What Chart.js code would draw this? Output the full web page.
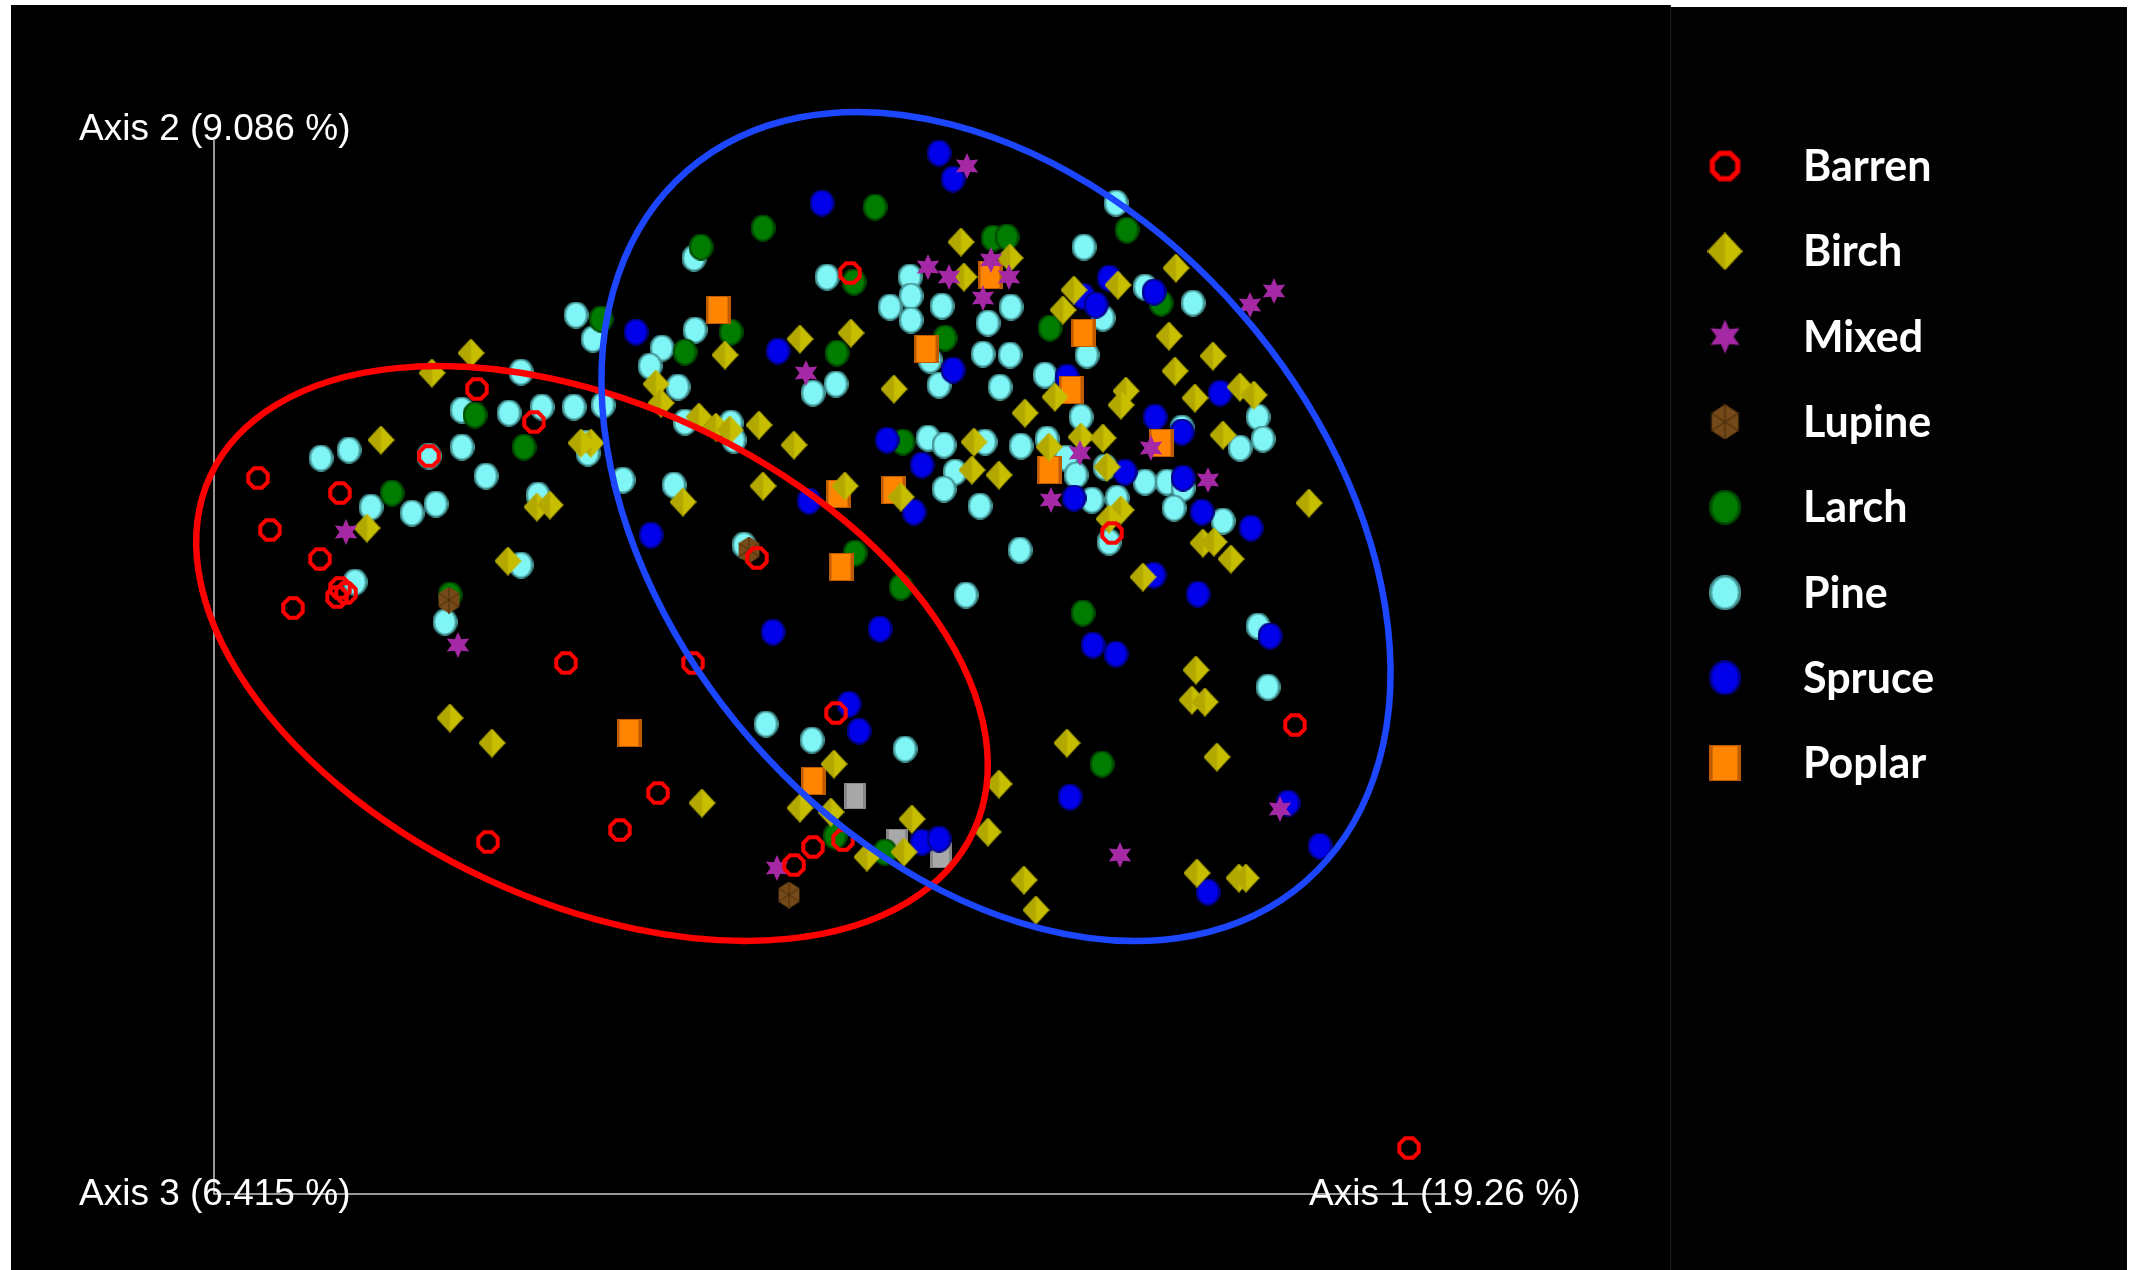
<!DOCTYPE html>
<html lang="en">
<head>
<meta charset="UTF-8" />
<title>PCoA - Emperor view</title>
<script src="https://cdn.jsdelivr.net/npm/chart.js"></script>
<style>
    html, body { margin: 0; padding: 0; background: #fff; }
    body { width: 2139px; height: 1270px; position: relative; overflow: hidden; }
    .panel { position: absolute; background: #000; }
    #plotPanel { left: 11px; top: 5px; width: 1659px; bottom: 0; }
    #legendPanel { left: 1671px; top: 7px; width: 456px; bottom: 0; background: #020202; }
    #divider { position: absolute; left: 1670px; top: 5px; width: 1px; bottom: 0; background: #1c1c1c; }
    #chart { position: absolute; left: 0; top: 0; }
</style>
</head>
<body>
<div class="panel" id="plotPanel"></div>
<div class="panel" id="legendPanel"></div>
<div id="divider"></div>
<canvas id="chart" width="2139" height="1270"></canvas>
<script>
// sample groups (legend order)
const groups = ['Barren', 'Birch', 'Mixed', 'Lupine', 'Larch', 'Pine', 'Spruce', 'Poplar'];

// axis titles
const axisLabels = ['Axis 1 (19.26 %)', 'Axis 2 (9.086 %)', 'Axis 3 (6.415 %)'];
const axisLength = [123.2, 105.4];

// point scores [axis1, axis2]
const barren = [[26.3,80.5],[32.0,77.2],[21.5,73.8],[4.4,71.6],[12.6,70.1],[5.6,66.4],[10.6,63.5],
    [12.6,60.6],[13.2,60.1],[12.3,59.7],[7.9,58.6],[35.2,53.1],[27.4,35.2],[40.6,36.4],[54.3,63.6],
    [63.6,92.1],[89.8,66.1],[47.9,53.1],[108.1,46.9],[62.2,48.1],[44.4,40.1],[62.9,35.4],[59.9,34.7],
    [58.0,32.9],[119.5,4.6]];
const birch = [[25.7,84.1],[21.8,82.1],[16.7,75.4],[32.3,68.7],[33.6,68.9],[15.3,66.6],[29.4,63.3],
    [23.6,47.6],[27.8,45.1],[44.2,81.0],[44.7,79.1],[48.5,77.7],[50.2,76.7],[51.6,76.4],[54.5,76.9],
    [58.0,74.9],[37.7,75.1],[36.7,75.1],[46.9,69.2],[54.9,70.8],[58.6,85.5],[63.7,86.1],[51.1,83.9],
    [74.7,95.2],[75.0,91.7],[68.0,80.5],[76.0,75.2],[75.8,72.4],[78.5,71.9],[68.7,69.7],[63.1,70.8],
    [79.6,93.6],[96.2,92.6],[90.4,90.9],[86.0,90.4],[84.9,88.4],[95.5,85.8],[99.9,83.8],[96.1,82.3],
    [84.1,79.7],[91.2,80.3],[90.7,78.9],[98.1,79.6],[102.6,80.7],[104.0,79.9],[81.1,78.1],[100.9,75.9],
    [83.5,74.7],[86.7,75.7],[88.9,75.6],[89.3,72.7],[90.7,68.4],[89.5,67.5],[109.5,69.1],[98.9,65.1],
    [100.0,65.2],[101.7,63.5],[92.9,61.7],[98.2,52.4],[97.8,49.4],[99.1,49.2],[85.3,45.1],[100.3,43.7],
    [62.0,43.0],[48.8,39.1],[58.6,38.6],[61.7,38.2],[78.5,41.0],[69.8,37.5],[77.4,36.2],[65.3,33.7],
    [69.0,34.2],[81.0,31.4],[98.3,32.1],[102.5,31.6],[103.2,31.6],[82.2,28.4]];
const mixed = [[13.2,66.2],[24.4,54.9],[59.2,82.1],[75.3,102.8],[71.4,92.7],[73.5,91.7],[76.9,89.6],
    [79.5,91.7],[77.7,93.4],[103.6,88.9],[106.0,90.3],[86.6,74.1],[93.7,74.6],[99.4,71.4],[83.7,69.4],
    [106.6,38.5],[90.6,33.9],[56.3,32.6]];
const lupine = [[23.5,59.4],[53.5,64.4],[57.5,29.9]];
const larch = [[26.1,77.9],[31.0,74.7],[17.8,70.1],[23.6,59.9],[38.7,87.5],[51.7,86.2],[47.1,84.2],
    [62.3,84.1],[64.1,64.1],[66.1,98.7],[54.9,96.6],[48.7,94.7],[64.0,91.2],[77.9,95.6],[79.3,95.7],
    [73.1,85.6],[68.9,75.2],[91.3,96.4],[94.7,89.1],[83.6,86.6],[68.7,60.7],[86.9,58.1],[88.8,43.0],
    [62.1,35.8],[67.1,34.2]];
const pine = [[30.7,82.2],[24.8,78.4],[29.5,78.1],[32.8,78.7],[10.7,73.6],[13.5,74.4],[21.5,73.8],
    [24.8,74.7],[27.2,71.8],[15.7,68.7],[19.8,68.1],[22.2,69.0],[32.4,69.9],[30.7,62.9],[14.1,61.2],
    [23.1,57.2],[36.2,87.9],[37.9,85.5],[48.1,86.4],[44.8,84.6],[43.6,82.8],[62.2,81.0],[59.9,80.1],
    [46.4,80.7],[47.1,77.2],[36.0,78.7],[38.9,78.9],[51.7,77.1],[52.0,75.4],[37.2,75.1],[37.4,74.1],
    [40.9,71.4],[46.0,70.9],[53.0,64.9],[48.0,93.6],[61.3,91.7],[69.6,91.7],[69.7,89.8],[67.6,88.7],
    [69.7,87.4],[72.8,88.8],[77.4,87.1],[71.6,83.4],[72.5,80.9],[76.9,84.0],[78.6,80.7],[71.4,75.6],
    [73.0,74.9],[77.1,75.2],[74.1,72.2],[73.0,70.5],[76.6,68.8],[90.2,99.1],[87.0,94.7],[93.1,90.7],
    [97.9,89.1],[88.9,87.6],[79.7,88.7],[87.3,83.9],[79.6,83.9],[83.1,81.9],[86.7,77.7],[104.4,77.7],
    [96.8,76.6],[104.9,75.5],[102.6,74.6],[80.7,74.8],[83.3,75.5],[85.2,73.6],[86.2,71.9],[89.1,72.7],
    [93.1,71.2],[95.3,71.2],[96.9,70.6],[87.8,69.4],[90.3,69.6],[89.5,65.2],[96.0,68.6],[100.9,67.3],
    [80.6,64.4],[75.2,59.9],[104.4,56.8],[105.4,50.7],[55.2,47.0],[59.8,45.4],[69.1,44.5]];
const spruce = [[42.2,86.2],[56.4,84.3],[43.7,65.9],[60.8,99.1],[72.5,104.1],[73.9,101.5],[73.9,82.4],
    [67.3,75.4],[70.8,72.9],[70.0,68.2],[59.5,69.3],[89.5,91.6],[94.0,90.2],[86.9,89.8],[88.2,88.9],
    [85.3,81.7],[100.6,80.1],[94.1,77.7],[96.8,76.2],[91.1,72.2],[96.9,71.6],[86.0,69.6],[98.8,68.2],
    [103.7,66.6],[94.0,61.9],[98.4,60.0],[55.9,56.2],[66.6,56.5],[87.9,54.9],[90.2,54.0],[105.6,55.8],
    [63.5,49.0],[64.5,46.3],[85.6,39.7],[107.4,39.1],[70.8,35.2],[72.5,35.5],[110.6,34.8],[99.4,30.2]];
const poplar = [[41.5,46.1],[50.4,88.4],[62.7,62.7],[62.4,70.0],[67.9,70.4],[71.2,84.5],[77.6,91.9],
    [86.9,86.1],[85.7,80.4],[94.7,75.1],[83.5,72.4],[59.9,41.3]];
const unassigned = [[64.1,39.8],[68.3,35.2],[72.7,33.9]];

// confidence ellipses: [centre x, centre y, semi-major, semi-minor, tilt in degrees]
const redEllipse = [37.8, 54.05, 42.1, 24.9, -25];
const blueEllipse = [78.2, 66.75, 47.1, 32.5, -49];

// ---- marker sprites ----
function makeCanvas(w, h) {
    const c = document.createElement('canvas');
    c.width = w; c.height = h;
    return c;
}
function ball(fill, rim) {
    const c = makeCanvas(25, 27), g = c.getContext('2d');
    g.fillStyle = rim;
    g.beginPath(); g.ellipse(12.5, 13.5, 12.5, 13.5, 0, 0, Math.PI * 2); g.fill();
    g.fillStyle = fill;
    g.beginPath(); g.ellipse(12.5, 13.5, 10, 11.5, 0, 0, Math.PI * 2); g.fill();
    return c;
}
function ring() {
    const c = makeCanvas(26, 26), g = c.getContext('2d');
    g.strokeStyle = '#ff0000'; g.lineWidth = 4;
    g.beginPath();
    for (let i = 0; i < 8; i++) {
        const a = Math.PI / 8 + i * Math.PI / 4;
        g.lineTo(13 + 10.5 * Math.cos(a), 13 + 10.5 * Math.sin(a));
    }
    g.closePath(); g.stroke();
    return c;
}
function diamond() {
    const c = makeCanvas(27, 29), g = c.getContext('2d');
    g.fillStyle = 'rgb(200,190,0)';
    g.beginPath(); g.moveTo(13.5, 0); g.lineTo(27, 14.5); g.lineTo(13.5, 29); g.lineTo(0, 14.5); g.closePath(); g.fill();
    g.fillStyle = 'rgb(178,168,0)';
    g.beginPath(); g.moveTo(13.5, 0); g.lineTo(13.5, 29); g.lineTo(0, 14.5); g.closePath(); g.fill();
    return c;
}
function star() {
    const c = makeCanvas(26, 28), g = c.getContext('2d');
    g.fillStyle = 'rgb(165,40,165)';
    g.beginPath();
    for (let i = 0; i < 12; i++) {
        const r = i % 2 === 0 ? 13 : 6.5;
        const a = -Math.PI / 2 + i * Math.PI / 6;
        g.lineTo(13 + r * Math.cos(a), 14 + r * Math.sin(a));
    }
    g.closePath(); g.fill();
    return c;
}
function hexagon() {
    const c = makeCanvas(24, 27), g = c.getContext('2d');
    const pts = [];
    for (let i = 0; i < 6; i++) {
        const a = -Math.PI / 2 + i * Math.PI / 3;
        pts.push([12 + 12 * Math.cos(a), 13.5 + 13.5 * Math.sin(a)]);
    }
    g.fillStyle = 'rgb(118,74,24)';
    g.beginPath(); pts.forEach(p => g.lineTo(p[0], p[1])); g.closePath(); g.fill();
    g.strokeStyle = 'rgb(70,45,12)'; g.lineWidth = 1;
    g.beginPath(); g.moveTo(pts[0][0], pts[0][1]); g.lineTo(pts[3][0], pts[3][1]);
    g.moveTo(pts[1][0], pts[1][1]); g.lineTo(pts[4][0], pts[4][1]);
    g.moveTo(pts[2][0], pts[2][1]); g.lineTo(pts[5][0], pts[5][1]); g.stroke();
    return c;
}
function box(w, h, fill, edge) {
    const c = makeCanvas(w, h), g = c.getContext('2d');
    g.fillStyle = edge; g.fillRect(0, 0, w, h);
    g.fillStyle = fill; g.fillRect(3, 1, w - 6, h - 2);
    return c;
}

const sprites = {
    Barren: ring(),
    Birch: diamond(),
    Mixed: star(),
    Lupine: hexagon(),
    Larch: ball('rgb(0,125,0)', 'rgb(0,75,0)'),
    Pine: ball('rgb(128,245,245)', 'rgb(70,150,150)'),
    Spruce: ball('rgb(0,0,235)', 'rgb(0,0,140)'),
    Poplar: box(25, 28, 'rgb(255,132,0)', 'rgb(190,90,0)'),
    Other: box(22, 26, 'rgb(168,168,168)', 'rgb(135,135,135)')
};

const groupData = { Barren: barren, Birch: birch, Mixed: mixed, Lupine: lupine, Larch: larch,
    Pine: pine, Spruce: spruce, Poplar: poplar, Other: unassigned };
// drawing depth: lower is drawn on top
const depth = { Barren: 0, Mixed: 1, Birch: 2, Poplar: 3, Lupine: 4, Spruce: 5, Larch: 6, Pine: 7, Other: 8 };

const datasets = groups.concat(['Other']).map(name => ({
    label: name,
    data: groupData[name].map(p => ({ x: p[0], y: p[1] })),
    pointStyle: sprites[name],
    order: depth[name]
}));

// axes, ellipses and legend
const decorations = {
    id: 'decorations',
    beforeDatasetsDraw(chart) {
        const ctx = chart.ctx, xs = chart.scales.x, ys = chart.scales.y;
        const ox = xs.getPixelForValue(0), oy = ys.getPixelForValue(0);
        const ex = xs.getPixelForValue(axisLength[0]), ty = ys.getPixelForValue(axisLength[1]);
        ctx.save();
        ctx.strokeStyle = '#c8c8c8';
        ctx.lineWidth = 1.5;
        ctx.beginPath();
        ctx.moveTo(ox, ty); ctx.lineTo(ox, oy); ctx.lineTo(ex, oy);
        ctx.stroke();
        ctx.fillStyle = '#ffffff';
        ctx.font = '37px "Liberation Sans", Arial, sans-serif';
        ctx.textBaseline = 'alphabetic';
        ctx.fillText(axisLabels[1], ox - 135, ty);
        ctx.fillText(axisLabels[2], ox - 135, oy + 11);
        ctx.fillText(axisLabels[0], ex - 137, oy + 11);
        ctx.restore();
    },
    afterDatasetsDraw(chart) {
        const ctx = chart.ctx, xs = chart.scales.x, ys = chart.scales.y;
        [[redEllipse, '#ff0000'], [blueEllipse, '#1c46ff']].forEach(([e, col]) => {
            const px = xs.getPixelForValue(e[0]), py = ys.getPixelForValue(e[1]);
            const rx = Math.abs(xs.getPixelForValue(e[0] + e[2]) - px);
            const ry = Math.abs(ys.getPixelForValue(e[1] + e[3]) - py);
            ctx.save();
            ctx.strokeStyle = col;
            ctx.lineWidth = 6.5;
            ctx.beginPath();
            ctx.ellipse(px, py, rx, ry, -e[4] * Math.PI / 180, 0, Math.PI * 2);
            ctx.stroke();
            ctx.restore();
        });
    },
    afterDraw(chart) {
        const ctx = chart.ctx;
        ctx.save();
        ctx.fillStyle = '#ffffff';
        ctx.font = 'bold 43px Lato, "Open Sans", sans-serif';
        ctx.textBaseline = 'alphabetic';
        groups.forEach((name, i) => {
            const cy = 166 + i * 85.3;
            const img = sprites[name];
            const w = img.width * 1.3, h = img.height * 1.3;
            ctx.drawImage(img, 1725 - w / 2, cy - h / 2, w, h);
            ctx.fillText(name, 1803, cy + 15);
        });
        ctx.restore();
    }
};

new Chart(document.getElementById('chart'), {
    type: 'scatter',
    data: { datasets: datasets },
    options: {
        responsive: false,
        animation: false,
        devicePixelRatio: 1,
        layout: { padding: 0, autoPadding: false },
        scales: {
            x: { type: 'linear', display: false, min: -21.4, max: 192.5 },
            y: { type: 'linear', display: false, min: -7.6, max: 119.4 }
        },
        plugins: {
            legend: { display: false },
            tooltip: { enabled: false }
        }
    },
    plugins: [decorations]
});
</script>
</body>
</html>
